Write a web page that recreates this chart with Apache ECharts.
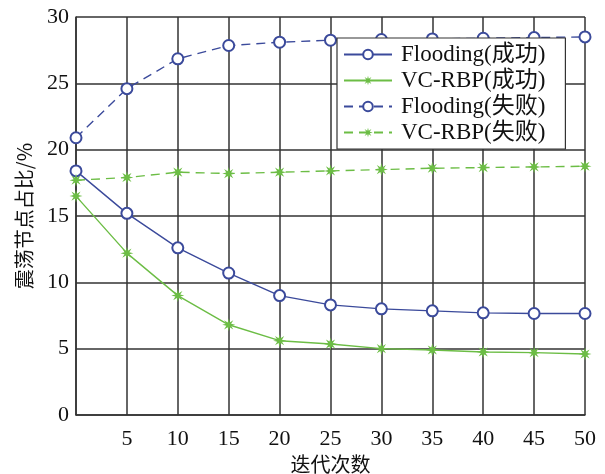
<!DOCTYPE html>
<html><head><meta charset="utf-8">
<script src="https://cdn.jsdelivr.net/npm/echarts@6/dist/echarts.min.js"></script>
<style>html,body{margin:0;padding:0;background:#fff}#c{width:605px;height:474px}</style>
</head><body><div id="c"></div>
<script>
const xValues = [0,5,10,15,20,25,30,35,40,45,50];
const floodingSuccess = [18.4,15.2,12.6,10.7,9.0,8.3,8.0,7.85,7.7,7.65,7.65];
const vcrbpSuccess = [16.5,12.2,9.0,6.8,5.6,5.35,5.0,4.9,4.75,4.7,4.6];
const floodingFail = [20.9,24.6,26.85,27.85,28.1,28.25,28.3,28.35,28.4,28.45,28.5];
const vcrbpFail = [17.7,17.9,18.3,18.2,18.3,18.4,18.5,18.6,18.65,18.7,18.75];
const seriesNames = ['Flooding(成功)','VC-RBP(成功)','Flooding(失败)','VC-RBP(失败)'];

const blue = '#3b4a9b', green = '#6cbd45';
const font = '"Liberation Serif","Noto Sans CJK SC",serif';
// 8-point asterisk symbol
function starPath(){
  let p = '';
  const n = 8, R = 10, r = 4;
  for (let i = 0; i < n*2; i++){
    const a = Math.PI * i / n;
    const rad = i % 2 === 0 ? R : r;
    p += (i === 0 ? 'M' : 'L') + (rad*Math.cos(a)).toFixed(2) + ',' + (rad*Math.sin(a)).toFixed(2);
  }
  return 'path://' + p + 'Z';
}
const star = starPath();
const pair = arr => xValues.map((x,i)=>[x,arr[i]]);

const chart = echarts.init(document.getElementById('c'));
chart.setOption({
  animation:false,
  textStyle:{fontFamily:font},
  grid:{left:76,right:20,top:17,bottom:59,outerBoundsMode:'none',containLabel:false},
  legend:{
    orient:'vertical', left:337, top:38, width:230,
    backgroundColor:'#fff', borderColor:'#333', borderWidth:1.2,
    padding:[5,20,5,6], itemGap:3, itemWidth:48, itemHeight:12,
    textStyle:{fontFamily:font,fontSize:23,color:'#111',padding:[0,0,0,4]},
    data:seriesNames
  },
  xAxis:{
    type:'value', min:0, max:50, interval:5,
    name:'迭代次数', nameLocation:'middle', nameGap:35,
    nameTextStyle:{fontFamily:'"Noto Sans CJK SC"',fontSize:20,color:'#111'},
    axisLine:{lineStyle:{color:'#333',width:1.5}},
    axisTick:{show:false},
    axisLabel:{fontSize:22,color:'#111',margin:13,formatter:v=>v===0?'':String(v)},
    splitLine:{lineStyle:{color:'#333',width:1.5}}
  },
  yAxis:{
    type:'value', min:0, max:30, interval:5,
    name:'震荡节点占比/%', nameLocation:'middle', nameGap:42,
    nameTextStyle:{fontFamily:'"Noto Sans CJK SC"',fontSize:20,color:'#111'},
    axisLine:{show:true,lineStyle:{color:'#333',width:1.5}},
    axisTick:{show:false},
    axisLabel:{fontSize:22,color:'#111',margin:7},
    splitLine:{lineStyle:{color:'#333',width:1.5}}
  },
  series:[
    {name:seriesNames[0],type:'line',data:pair(floodingSuccess),symbol:'emptyCircle',symbolSize:11,
     lineStyle:{color:blue,width:1.4},itemStyle:{color:blue,borderWidth:1.2}},
    {name:seriesNames[1],type:'line',data:pair(vcrbpSuccess),symbol:star,symbolSize:13,
     lineStyle:{color:green,width:1.4},itemStyle:{color:green}},
    {name:seriesNames[2],type:'line',data:pair(floodingFail),symbol:'emptyCircle',symbolSize:11,
     lineStyle:{color:blue,width:1.4,type:[9,6]},itemStyle:{color:blue,borderWidth:1.2}},
    {name:seriesNames[3],type:'line',data:pair(vcrbpFail),symbol:star,symbolSize:13,
     lineStyle:{color:green,width:1.4,type:[9,6]},itemStyle:{color:green}}
  ]
});
</script></body></html>
